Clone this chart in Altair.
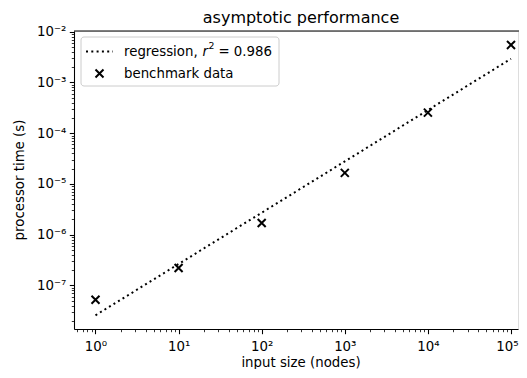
import altair as alt
import pandas as pd

# ---- data ----
sizes = [1, 10, 100, 1000, 10000, 100000]
times = [5.2e-8, 2.2e-7, 1.7e-6, 1.65e-5, 2.55e-4, 5.5e-3]
fit_sizes = [1, 100000]
fit_times = [2.57e-8, 2.93e-3]

x_major = [1, 10, 100, 1000, 10000, 100000]
y_major = [1e-7, 1e-6, 1e-5, 1e-4, 1e-3, 1e-2]
x_exps = [0, 1, 2, 3, 4, 5]
y_exps = [-7, -6, -5, -4, -3, -2]

FONT = "DejaVu Sans"
W, H = 444, 298
PX_PER_DEC = 83.1
xdom = [10 ** -0.2587, 10 ** (-0.2587 + W / PX_PER_DEC)]
ydom = [10 ** -7.86, 10 ** -1.985]

x_minor = [m * 10 ** k for k in range(-1, 6) for m in range(2, 10)
           if xdom[0] <= m * 10 ** k <= xdom[1]]
y_minor = [m * 10 ** k for k in range(-9, -1) for m in range(2, 10)
           if ydom[0] <= m * 10 ** k <= ydom[1]]

SUP = {"-": "\u207b", "0": "\u2070", "1": "\u00b9", "2": "\u00b2", "3": "\u00b3",
       "4": "\u2074", "5": "\u2075", "6": "\u2076", "7": "\u2077", "8": "\u2078", "9": "\u2079"}


def sup_label(e):
    return "10" + "".join(SUP[c] for c in str(e))


def label_expr(exps):
    expr = "''"
    for e in exps:
        expr = f"round(log(datum.value)/LN10) == {e} ? '{sup_label(e)}' : ({expr})"
    return expr


pts = pd.DataFrame({"size": sizes, "time": times})
fit = pd.DataFrame({"size": fit_sizes, "time": fit_times})
one = pd.DataFrame({"k": [0]})

xs = alt.Scale(type="log", domain=xdom, nice=False)
ys = alt.Scale(type="log", domain=ydom, nice=False)

common_axis = dict(grid=False, tickColor="black", domainColor="black",
                   labelFont=FONT, labelFontSize=13.33, labelColor="black",
                   labelFlush=False, labelOverlap=False)

x_axis_major = alt.Axis(orient="bottom", values=x_major, labelExpr=label_expr(x_exps),
                        tickSize=4.7, tickWidth=1.07, domainWidth=1.07,
                        labelPadding=6, title=None,
                        labelOffset={"condition": {"test": "datum.value > 50000",
                                                   "value": -4}, "value": 0},
                        **common_axis)
y_axis_major = alt.Axis(orient="left", values=y_major, labelExpr=label_expr(y_exps),
                        tickSize=4.7, tickWidth=1.07, domainWidth=1.07,
                        labelPadding=3.5, labelBaseline="middle",
                        title=None, **common_axis)
x_axis_minor = alt.Axis(orient="bottom", values=x_minor, labels=False, domain=False,
                        grid=False, tickSize=2.7, tickWidth=0.8, tickColor="black",
                        title=None)
y_axis_minor = alt.Axis(orient="left", values=y_minor, labels=False, domain=False,
                        grid=False, tickSize=2.7, tickWidth=0.8, tickColor="black",
                        title=None)

XPATH = "M-1,-1L1,1M1,-1L-1,1"

points = alt.Chart(pts).mark_point(
    shape=XPATH, size=64, strokeWidth=2, color="black", filled=False, opacity=1
).encode(
    x=alt.X("size:Q", scale=xs, axis=x_axis_major),
    y=alt.Y("time:Q", scale=ys, axis=y_axis_major),
)

line = alt.Chart(fit).mark_line(
    color="black", strokeWidth=2, strokeDash=[2, 3.3], strokeCap="butt"
).encode(
    x=alt.X("size:Q", scale=xs, axis=x_axis_minor),
    y=alt.Y("time:Q", scale=ys, axis=y_axis_minor),
)

# frame lines continuing to the chart edge (the reference frame runs off the right)
top_border = alt.Chart(one).mark_rule(color="black", strokeWidth=1.07).encode(
    x=alt.value(0), x2=alt.value(W + 1), y=alt.value(0)
)


def txt(s, x, y, size=13.33, style="normal", align="left", angle=0,
        baseline="middle"):
    return alt.Chart(one).mark_text(
        align=align, baseline=baseline, font=FONT, fontSize=size,
        fontStyle=style, color="black", angle=angle
    ).encode(x=alt.value(x), y=alt.value(y), text=alt.value(s))


# ---- titles ----
title_txt = txt("asymptotic performance", 227, -8, size=16, align="center",
                baseline="alphabetic")
xtitle_txt = txt("input size (nodes)", 227, H + 37.5, align="center",
                 baseline="alphabetic")
ytitle_txt = txt("processor time (s)", -54, H / 2, align="center", angle=270,
                 baseline="middle")

# ---- manual legend ----
leg_box = alt.Chart(one).mark_rect(
    fill="white", fillOpacity=0.8, stroke="#cccccc", strokeWidth=1, cornerRadius=3
).encode(x=alt.value(7), x2=alt.value(205), y=alt.value(6), y2=alt.value(55))

leg_line = alt.Chart(one).mark_rule(
    color="black", strokeWidth=2, strokeDash=[2, 3.3], strokeCap="butt"
).encode(x=alt.value(12), x2=alt.value(39), y=alt.value(20.5))

leg_x = alt.Chart(one).mark_point(
    shape=XPATH, size=64, strokeWidth=2, color="black", filled=False, opacity=1
).encode(x=alt.value(25.5), y=alt.value(42.5))

legend = [
    leg_box, leg_line, leg_x,
    txt("regression,", 50, 20.5),
    txt("r", 128.5, 20.5, style="italic"),
    txt("2", 134.5, 15, size=9.33),
    txt("= 0.986", 144.4, 20.5),
    txt("benchmark data", 50, 42.5),
]

chart = alt.layer(points, line, top_border, title_txt, xtitle_txt,
                  ytitle_txt, *legend).resolve_axis(
    x="independent", y="independent"
).properties(
    width=W, height=H,
    autosize=alt.AutoSizeParams(type="none"),
    padding={"left": 66, "top": 23, "right": 1, "bottom": 40},
).configure_view(stroke=None).configure(background="white")

chart.save("out.html", embed_options={"renderer": "svg", "actions": False})
